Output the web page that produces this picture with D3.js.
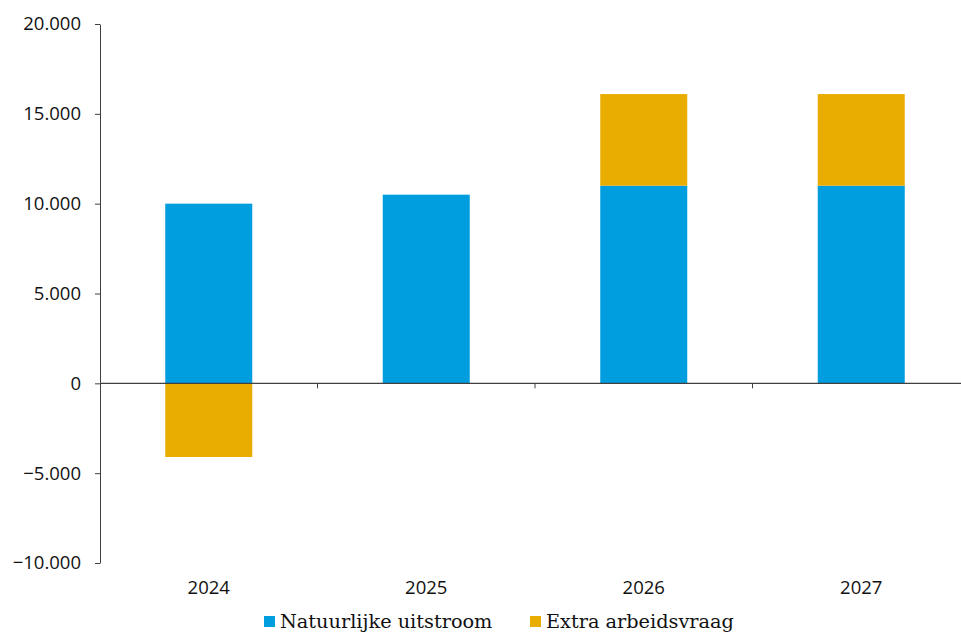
<!DOCTYPE html>
<html>
<head>
<meta charset="utf-8">
<script src="https://cdn.jsdelivr.net/npm/d3@7"></script>
<style>
  html, body { margin: 0; padding: 0; background: #fff; }
  svg { display: block; }
</style>
</head>
<body>
<svg id="chart" width="961" height="633"></svg>
<script>
const categories = ["2024", "2025", "2026", "2027"];
const natuurlijkeUitstroom = [10000, 10500, 11000, 11000];
const extraArbeidsvraag = [-4100, 0, 5100, 5100];
const yTicks = [-10000, -5000, 0, 5000, 10000, 15000, 20000];
const seriesNames = ["Natuurlijke uitstroom", "Extra arbeidsvraag"];
const seriesColors = ["#009DDF", "#E9AC00"];

(function () {
const svg = d3.select("#chart");
const mLeft = 100, mRight = 970, mTop = 24, mBottom = 563;

const y = d3.scaleLinear().domain([-10000, 20000]).range([mBottom, mTop]);
const x = d3.scaleBand().domain(categories).range([mLeft, mRight]).paddingInner(0.6).paddingOuter(0.3);

const fmt = v => v === 0 ? "0" : d3.format(",")(v).replace(/,/g, ".");

const rows = categories.map((c, i) => ({ c, vals: [natuurlijkeUitstroom[i], extraArbeidsvraag[i]] }));
rows.forEach(r => {
  let pos = 0, neg = 0;
  r.vals.forEach((v, k) => {
    let y0, y1;
    if (v >= 0) { y0 = pos; y1 = pos + v; pos = y1; }
    else { y0 = neg + v; y1 = neg; neg = y0; }
    if (v === 0) return;
    svg.append("rect")
      .attr("x", x(r.c))
      .attr("width", x.bandwidth())
      .attr("y", y(y1))
      .attr("height", y(y0) - y(y1))
      .attr("fill", seriesColors[k]);
  });
});

const yAxis = d3.axisLeft(y).tickValues(yTicks).tickFormat(fmt).tickSize(5).tickSizeOuter(0);
const gy = svg.append("g").attr("transform", `translate(${mLeft},0)`).call(yAxis);
gy.select(".domain").attr("stroke", "#404040");
gy.selectAll(".tick line").attr("stroke", "#404040");
gy.selectAll(".tick text")
  .attr("x", -19)
  .attr("fill", "#111")
  .style("font-family", "'Open Sans', 'Liberation Sans', sans-serif")
  .style("font-size", "18.5px");

const boundaries = categories.slice(1).map(c => x(c) - x.step() * x.paddingInner() / 2);
svg.append("line").attr("x1", mLeft).attr("x2", mRight).attr("y1", y(0)).attr("y2", y(0))
  .attr("stroke", "#404040").attr("stroke-width", 1.2);
svg.selectAll(".xt").data(boundaries).enter().append("line")
  .attr("x1", d => d).attr("x2", d => d).attr("y1", y(0)).attr("y2", y(0) + 5)
  .attr("stroke", "#404040");
svg.selectAll(".xl").data(categories).enter().append("text")
  .attr("x", d => x(d) + x.bandwidth() / 2)
  .attr("y", 594)
  .attr("text-anchor", "middle")
  .attr("fill", "#111")
  .style("font-family", "'Open Sans', 'Liberation Sans', sans-serif")
  .style("font-size", "18.5px")
  .text(d => d);

const legendX = [264, 530];
seriesNames.forEach((n, k) => {
  svg.append("rect").attr("x", legendX[k]).attr("y", 616).attr("width", 11).attr("height", 11).attr("fill", seriesColors[k]);
  svg.append("text").attr("x", legendX[k] + 16).attr("y", 628)
    .attr("fill", "#111")
    .style("font-family", "'DejaVu Serif', 'Liberation Serif', serif")
    .style("font-size", "19.3px")
    .text(n);
});
})();
</script>
</body>
</html>
